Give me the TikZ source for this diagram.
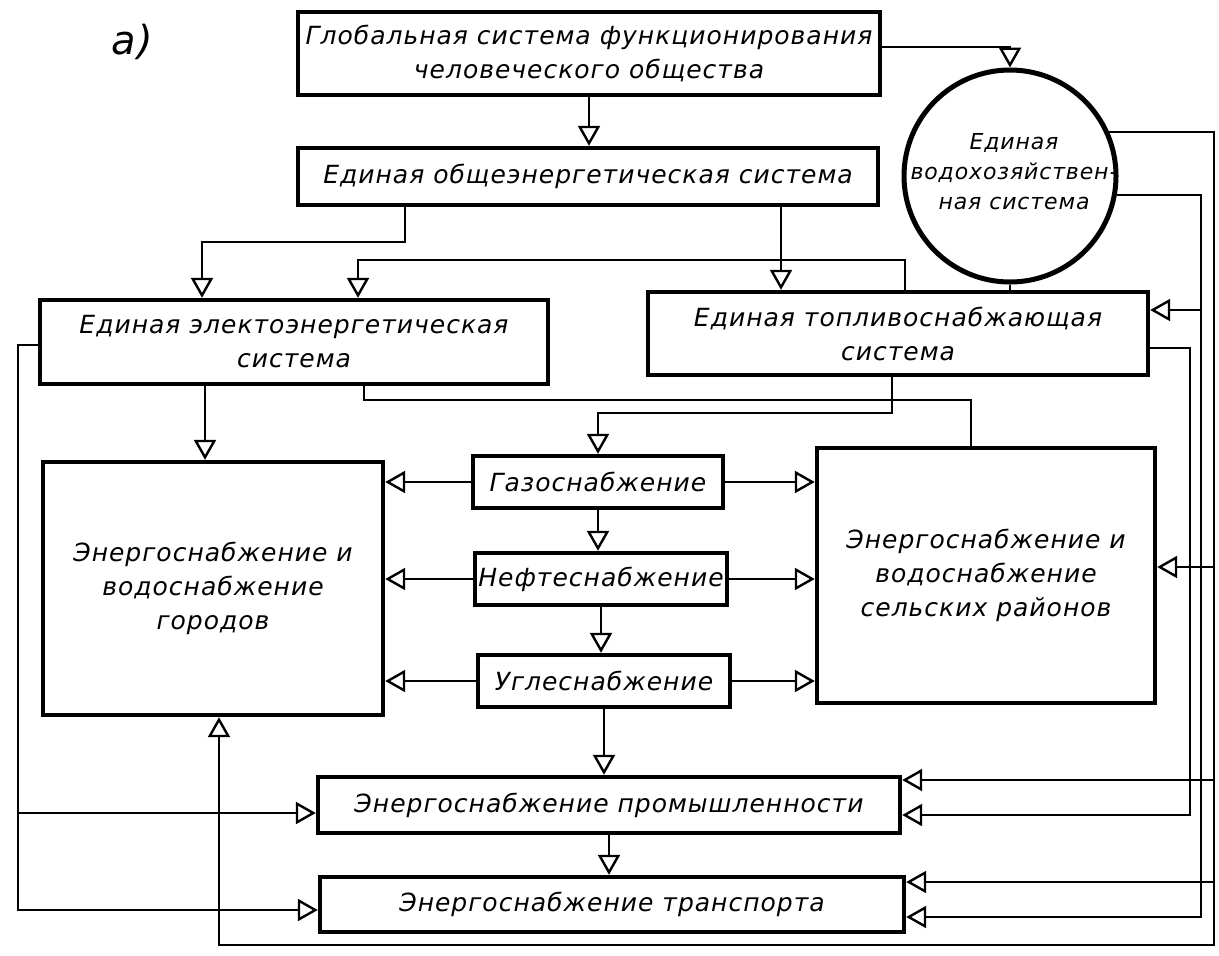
\documentclass[tikz,border=0pt]{standalone}
\usepackage{fontspec}
\newfontfamily\drfont{DejaVu Sans}[LetterSpace=4]
\usetikzlibrary{arrows.meta,shapes.geometric,calc}
\begin{document}
\begin{tikzpicture}[x=0.5pt,y=-0.5pt,
  txtfont/.style={font=\drfont\itshape\fontsize{12.5}{17}\selectfont},
  box/.style={draw, line width=2.2pt, inner sep=0pt, align=center, txtfont},
  con/.style={line width=1.2pt},
  arr/.style={con, -{Triangle[open,length=10pt,width=11pt]}},
]
\useasboundingbox (0,0) rectangle (1219,955);
\node[font=\drfont\itshape\fontsize{20}{24}\selectfont] (lbl) at (132,42) {а)};
\node[box, minimum width=291pt, minimum height=41.5pt] (glob) at (589,53.5) {Глобальная система функционирования\\человеческого общества};
\node[box, minimum width=290pt, minimum height=28.5pt] (obsh) at (588,176.5) {Единая общеэнергетическая система};
\node[draw, circle, line width=2.5pt, minimum size=106pt, inner sep=0pt] (circ) at (1010,176) {};
\node[align=center, font=\drfont\itshape\fontsize{11}{15}\selectfont] (circt) at (1014,172) {Единая\\водохозяйствен-\\ная система};
\node[box, minimum width=254pt, minimum height=42pt] (elec) at (294,342) {Единая электоэнергетическая\\система};
\node[box, minimum width=250pt, minimum height=41.5pt] (fuel) at (898,333.5) {Единая топливоснабжающая\\система};
\node[box, minimum width=170pt, minimum height=126.5pt] (cities) at (213,588.5) {Энергоснабжение и\\водоснабжение\\городов};
\node[box, minimum width=169pt, minimum height=127.5pt] (rural) at (986,575.5) {Энергоснабжение и\\водоснабжение\\сельских районов};
\node[box, minimum width=125pt, minimum height=26pt] (gas) at (598,482) {Газоснабжение};
\node[box, minimum width=126pt, minimum height=26pt] (oil) at (601,579) {Нефтеснабжение};
\node[box, minimum width=126pt, minimum height=26pt] (coal) at (604,681) {Углеснабжение};
\node[box, minimum width=291pt, minimum height=28pt] (prom) at (609,805) {Энергоснабжение промышленности};
\node[box, minimum width=292pt, minimum height=27.5pt] (trans) at (612,904.5) {Энергоснабжение транспорта};

% junctions
\coordinate (jl) at (18,813);
\coordinate (r1a) at (1214,567);
\coordinate (r1b) at (1214,780);
\coordinate (r1c) at (1214,882);
\coordinate (r2a) at (1201,310);

% top part
\draw[arr] (glob.south) -- (glob.south |- obsh.north);
\draw[arr] (glob.east |- 0,47) -| (circ.north);
\draw[arr] (obsh.south -| 405,0) -- ++(0,35) -| (elec.north -| 202,0);
\draw[arr] (obsh.south -| 781,0) -- (fuel.north -| 781,0);
\draw[arr] (circ.south) -- ++(0,7) -| (905,260) -| (elec.north -| 358,0);

% middle
\draw[arr] (elec.south -| 205,0) -- (cities.north -| 205,0);
\draw[con] (elec.south -| 364,0) |- (971,400) -- (rural.north -| 971,0);
\draw[arr] (fuel.south -| 892,0) |- (598,413) -- (gas.north);
\draw[arr] (fuel.east |- 0,348) -| (1190,815) -- (prom.east |- 0,815);

\draw[arr] (gas.west) -- (cities.east |- gas.west);
\draw[arr] (gas.east) -- (rural.west |- gas.east);
\draw[arr] (oil.west) -- (cities.east |- oil.west);
\draw[arr] (oil.east) -- (rural.west |- oil.east);
\draw[arr] (coal.west) -- (cities.east |- coal.west);
\draw[arr] (coal.east) -- (rural.west |- coal.east);
\draw[arr] (gas.south) -- (gas.south |- oil.north);
\draw[arr] (oil.south) -- (oil.south |- coal.north);
\draw[arr] (coal.south) -- (coal.south |- prom.north);
\draw[arr] (prom.south) -- (prom.south |- trans.north);

% left feed
\draw[arr] (elec.west |- 0,345) -| (18,910) -- (trans.west |- 0,910);
\draw[arr] (jl) -- (prom.west |- jl);

% right feeds
\draw[arr] (circ.24.5) -| (1214,945) -| (cities.south -| 219,0);
\draw[arr] (r1a) -- (rural.east |- r1a);
\draw[arr] (r1b) -- (prom.east |- r1b);
\draw[arr] (r1c) -- (trans.east |- r1c);
\draw[arr] (circ.-10.3) -| (1201,917) -- (trans.east |- 0,917);
\draw[arr] (r2a) -- (fuel.east |- r2a);
\end{tikzpicture}
\end{document}
